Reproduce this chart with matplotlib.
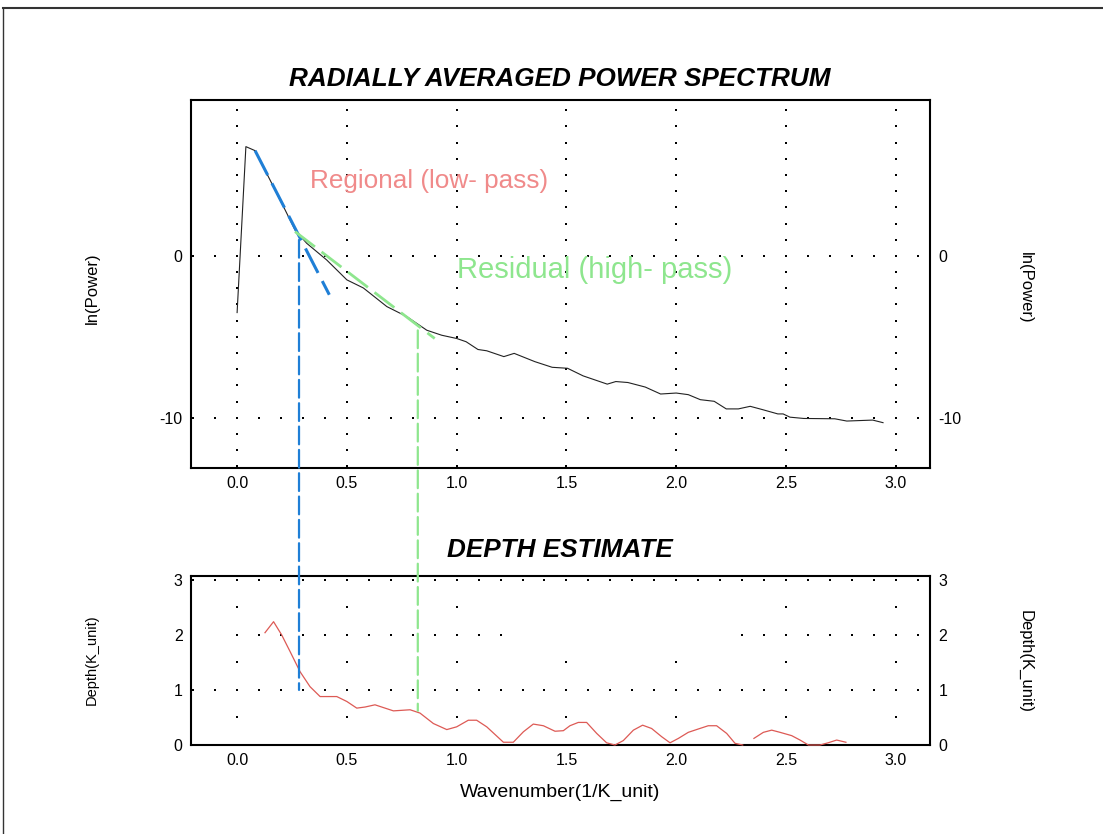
import numpy as np
import matplotlib
matplotlib.use("Agg")
import matplotlib.pyplot as plt
from matplotlib.patches import ConnectionPatch
from matplotlib.lines import Line2D

plt.rcParams['font.family'] = ['Liberation Sans', 'DejaVu Sans']
plt.rcParams['axes.unicode_minus'] = False

# radially averaged power spectrum, ln(power) vs wavenumber
x_pow = [0.0, 0.04, 0.082, 0.15, 0.196, 0.264, 0.317, 0.408, 0.5, 0.575, 0.682,
         0.773, 0.864, 0.932, 1.0, 1.043, 1.097, 1.137, 1.215, 1.262, 1.356,
         1.435, 1.505, 1.576, 1.686, 1.725, 1.78, 1.859, 1.929, 2.0, 2.055,
         2.11, 2.173, 2.228, 2.283, 2.337, 2.392, 2.463, 2.487, 2.518, 2.581,
         2.722, 2.777, 2.895, 2.942]
y_pow = [-3.5, 6.75, 6.5, 4.69, 3.46, 1.6, 0.78, -0.25, -1.48, -1.98, -3.13,
         -3.75, -4.59, -4.9, -5.1, -5.3, -5.78, -5.86, -6.22, -6.02, -6.53,
         -6.88, -6.94, -7.41, -7.92, -7.76, -7.82, -8.1, -8.53, -8.47, -8.57,
         -8.88, -8.98, -9.45, -9.45, -9.29, -9.49, -9.76, -9.76, -9.96, -10.04,
         -10.06, -10.2, -10.14, -10.3]

# depth estimate (gap between the two segments)
x_dep = [0.127, 0.166, 0.203, 0.241, 0.287, 0.332, 0.378, 0.454, 0.5, 0.545,
         0.583, 0.628, 0.712, 0.788, 0.833, 0.894, 0.955, 1.0, 1.053, 1.091,
         1.137, 1.213, 1.258, 1.304, 1.349, 1.395, 1.448, 1.486, 1.516, 1.554,
         1.592, 1.638, 1.683, 1.721, 1.759, 1.805, 1.847, 1.888, 1.934, 1.972,
         2.01, 2.055, 2.1, 2.146, 2.184, 2.23, 2.268, 2.303, np.nan, 2.354,
         2.397, 2.435, 2.473, 2.526, 2.564, 2.602, 2.655, 2.692, 2.731, 2.773]
y_dep = [2.04, 2.24, 2.0, 1.70, 1.33, 1.06, 0.88, 0.88, 0.79, 0.67, 0.69, 0.73,
         0.62, 0.64, 0.58, 0.39, 0.28, 0.33, 0.45, 0.45, 0.33, 0.05, 0.05, 0.24,
         0.38, 0.35, 0.25, 0.26, 0.35, 0.41, 0.41, 0.21, 0.04, 0.0, 0.08, 0.27,
         0.36, 0.30, 0.15, 0.04, 0.12, 0.23, 0.29, 0.35, 0.35, 0.21, 0.03, 0.0,
         np.nan, 0.12, 0.23, 0.27, 0.23, 0.17, 0.09, 0.0, 0.0, 0.04, 0.09, 0.05]

# straight-line fits
reg_x = [0.082, 0.42]
reg_y = [6.5, -2.4]
res_x = [0.264, 0.9]
res_y = [1.5, -5.1]

# cut-off wavenumbers: (x, ln power on top, depth on bottom)
cut_reg = (0.282, 0.99, 1.0)
cut_res = (0.823, -4.6, 0.62)

BLUE = '#1f7fd6'
GREEN = '#8ee68e'
RED = '#dd5a55'

fig = plt.figure(figsize=(11.03, 8.34), dpi=100)
ax1 = fig.add_axes([191/1103, 1-468/834, 739/1103, 368/834])
ax2 = fig.add_axes([191/1103, 1-745/834, 739/1103, 169/834])

xlim = (-0.21, 3.156)


def dots(ax, pts):
    pts = np.array(pts)
    ax.plot(pts[:, 0], pts[:, 1], 's', color='k', ms=1.8, mew=0, zorder=1)


# dotted grids
cols = np.arange(0, 3.01, 0.5)
row_x = np.arange(-0.2, 3.11, 0.1)
g1 = [(c, y) for c in cols for y in range(-13, 10)]
g1 += [(x, y) for y in (0, -10) for x in row_x]
dots(ax1, g1)

g2 = [(c, y) for c in cols for y in (0.5, 1.5, 2.5)]
g2 += [(x, y) for y in (1, 2, 3) for x in row_x]
g2 = [p for p in g2 if not (1.25 < p[0] < 2.25 and 1.8 < p[1] < 2.8)]
g2 = [p for p in g2 if not (p[0] < -0.05 and p[1] == 2)]
dots(ax2, g2)

ax1.plot(x_pow, y_pow, color='#222222', lw=0.8, zorder=3)
ax1.plot(reg_x, reg_y, color=BLUE, lw=2.2, dashes=(9, 3), zorder=4)
ax1.plot(res_x, res_y, color=GREEN, lw=2.0, dashes=(9, 3), zorder=4)
ax2.plot(x_dep, y_dep, color=RED, lw=0.9, zorder=3, clip_on=False)

for (cx, ytop, ybot), col in ((cut_reg, BLUE), (cut_res, GREEN)):
    con = ConnectionPatch(xyA=(cx, ytop), coordsA=ax1.transData,
                          xyB=(cx, ybot), coordsB=ax2.transData,
                          color=col, lw=1.6, linestyle=(0, (8, 2.5)), zorder=5)
    fig.add_artist(con)

ax1.text(0.332, 4.63, 'Regional (low- pass)', color='#f08a8a', fontsize=18.8,
         va='center', ha='left')
ax1.text(1.0, -0.85, 'Residual (high- pass)', color=GREEN, fontsize=21,
         va='center', ha='left')

for ax in (ax1, ax2):
    ax.set_xlim(*xlim)
    ax.set_xticks(np.arange(0, 3.01, 0.5))
    ax.set_xticklabels(['0.0', '0.5', '1.0', '1.5', '2.0', '2.5', '3.0'])
    ax.tick_params(length=0, labelsize=11.5, right=True, labelright=True, pad=6)
    for s in ax.spines.values():
        s.set_linewidth(1.5)

ax1.set_ylim(-13.1, 9.63)
ax1.set_yticks([0, -10])
ax2.set_ylim(0, 3.07)
ax2.set_yticks([0, 1, 2, 3])

fig.text(0.5077, 1-79/834, 'RADIALLY AVERAGED POWER SPECTRUM',
         fontsize=18.8, weight='bold', style='italic', ha='center', va='center')
fig.text(0.5077, 1-550/834, 'DEPTH ESTIMATE',
         fontsize=18.8, weight='bold', style='italic', ha='center', va='center')
fig.text(92/1103, 1-288/834, 'ln(Power)', rotation=90, fontsize=12,
         ha='center', va='center')
fig.text(1025/1103, 1-288/834, 'ln(Power)', rotation=270, fontsize=12,
         ha='center', va='center')
fig.text(92/1103, 1-660/834, 'Depth(K_unit)', rotation=90, fontsize=10.5,
         ha='center', va='center')
fig.text(1025/1103, 1-661/834, 'Depth(K_unit)', rotation=270, fontsize=12,
         ha='center', va='center')
fig.text(0.5077, 1-792/834, 'Wavenumber(1/K_unit)', fontsize=14,
         ha='center', va='center')

# page frame (top and left edges)
fig.add_artist(Line2D([3/1103, 1], [1-8/834, 1-8/834], color='#333333', lw=1.5))
fig.add_artist(Line2D([3/1103, 3/1103], [0, 1-8/834], color='#333333', lw=1.0))

fig.savefig('out.png', dpi=100)
